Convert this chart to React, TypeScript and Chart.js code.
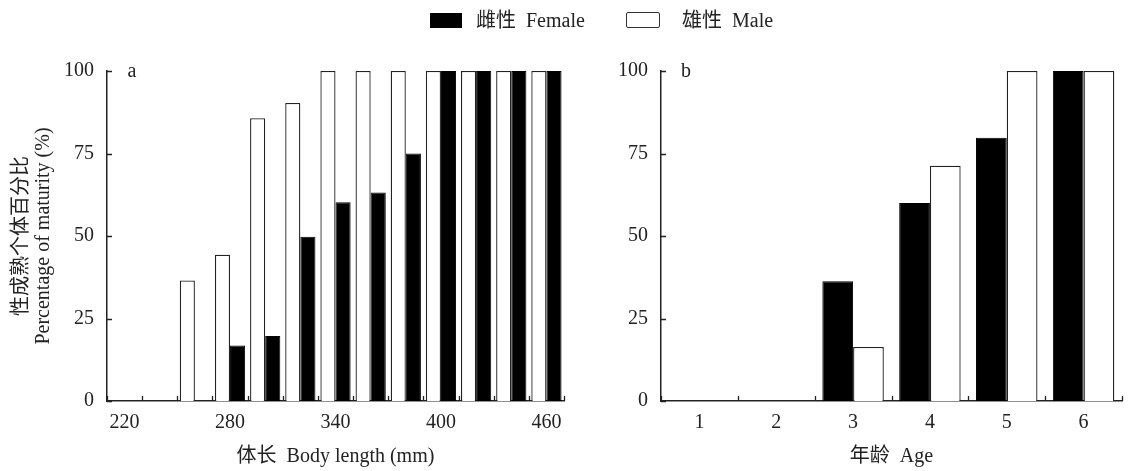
import React, { useEffect, useRef } from "react";
import { Chart, registerables } from "chart.js";

Chart.register(...registerables);

const lengthLabels = ["220", "240", "260", "280", "300", "320", "340", "360", "380", "400", "420", "440", "460"];
const lengthMale = [0, 0, 36.5, 44.3, 85.7, 90.3, 100, 100, 100, 100, 100, 100, 100];
const lengthFemale = [0, 0, 0, 16.8, 19.7, 49.8, 60.2, 63.2, 75, 100, 100, 100, 100];

const ageLabels = ["1", "2", "3", "4", "5", "6"];
const ageFemale = [0, 0, 36.3, 60, 79.8, 100];
const ageMale = [0, 0, 16.4, 71.3, 100, 100];

const yTicks = [0, 25, 50, 75, 100];

const FONT = "'Liberation Serif', 'Times New Roman', 'Noto Sans CJK SC', serif";
const INK = "#222";
const FS = 20;

const inwardTicks = {
  id: "inwardTicks",
  afterDatasetsDraw(chart: any) {
    const { ctx, chartArea, scales } = chart;
    const x = scales.x;
    const y = scales.y;
    ctx.save();
    ctx.strokeStyle = INK;
    ctx.lineWidth = 1.3;
    ctx.beginPath();
    y.ticks.forEach((_t: any, i: number) => {
      const py = Math.round(y.getPixelForTick(i)) + 0.5;
      ctx.moveTo(chartArea.left, py);
      ctx.lineTo(chartArea.left + 5, py);
    });
    const n = x.ticks.length;
    for (let i = 0; i <= n; i++) {
      let px: number;
      if (i === 0) px = x.left;
      else if (i === n) px = x.right;
      else px = (x.getPixelForTick(i - 1) + x.getPixelForTick(i)) / 2;
      px = Math.round(px) + 0.5;
      ctx.moveTo(px, chartArea.bottom);
      ctx.lineTo(px, chartArea.bottom - 5);
    }
    ctx.stroke();
    const label = chart.options.plugins.inwardTicks?.panel;
    if (label) {
      ctx.fillStyle = INK;
      ctx.font = `${FS}px ${FONT}`;
      ctx.textBaseline = "middle";
      ctx.textAlign = "center";
      ctx.fillText(label, chartArea.left + 25, chartArea.top + 1);
    }
    ctx.restore();
  },
};

function makeOptions(opts: {
  yWidth: number;
  yTitle: string[] | null;
  xTitle: string;
  catPct: number;
  padRight: number;
  panel: string;
  every: number;
}): any {
  return {
    animation: false,
    responsive: true,
    maintainAspectRatio: false,
    layout: { padding: { top: 71, right: opts.padRight, bottom: 0, left: 0 } },
    plugins: {
      legend: { display: false },
      tooltip: { enabled: false },
      inwardTicks: { panel: opts.panel },
    },
    datasets: {
      bar: { categoryPercentage: opts.catPct, barPercentage: 1 },
    },
    scales: {
      x: {
        grid: { display: false, drawTicks: false },
        border: { display: true, color: INK, width: 1.5 },
        ticks: {
          color: INK,
          font: { family: FONT, size: FS },
          padding: 10,
          autoSkip: false,
          maxRotation: 0,
          callback: function (this: any, _v: any, i: number) {
            return i % opts.every === 0 ? this.getLabelForValue(i) : "";
          },
        },
        title: {
          display: true,
          text: opts.xTitle,
          color: INK,
          font: { family: FONT, size: FS },
          padding: { top: 0, bottom: 2 },
        },
        afterFit(scale: any) {
          scale.height = 70;
        },
      },
      y: {
        min: 0,
        max: 100,
        afterBuildTicks(scale: any) {
          scale.ticks = yTicks.map((v) => ({ value: v }));
        },
        grid: { display: false, drawTicks: false },
        border: { display: true, color: INK, width: 1.5 },
        ticks: {
          color: INK,
          font: { family: FONT, size: FS },
          padding: 13,
        },
        title: {
          display: !!opts.yTitle,
          text: opts.yTitle || "",
          color: INK,
          font: { family: FONT, size: FS, lineHeight: 1.1 },
          padding: { top: 11, bottom: 0 },
        },
        afterFit(scale: any) {
          scale.width = opts.yWidth;
        },
      },
    },
  };
}

function BarPanel(props: { config: any; style: React.CSSProperties }) {
  const ref = useRef<HTMLCanvasElement | null>(null);
  useEffect(() => {
    if (!ref.current) return;
    const chart = new Chart(ref.current, props.config);
    return () => chart.destroy();
  }, []);
  return (
    <div style={{ position: "absolute", ...props.style }}>
      <canvas ref={ref} />
    </div>
  );
}

const maleStyle = { backgroundColor: "#ffffff", borderColor: INK, borderWidth: 1.3 };
const femaleStyle = { backgroundColor: "#000000", borderColor: "#000000", borderWidth: 1 };

export default function App() {
  const leftConfig = {
    type: "bar",
    data: {
      labels: lengthLabels,
      datasets: [
        { label: "雄性 Male", data: lengthMale, ...maleStyle },
        { label: "雌性 Female", data: lengthFemale, ...femaleStyle },
      ],
    },
    options: makeOptions({
      yWidth: 107,
      yTitle: ["性成熟个体百分比", "Percentage of maturity (%)"],
      xTitle: "体长  Body length (mm)",
      catPct: 0.86,
      padRight: 16,
      panel: "a",
      every: 3,
    }),
    plugins: [inwardTicks],
  };
  const rightConfig = {
    type: "bar",
    data: {
      labels: ageLabels,
      datasets: [
        { label: "雌性 Female", data: ageFemale, ...femaleStyle },
        { label: "雄性 Male", data: ageMale, ...maleStyle },
      ],
    },
    options: makeOptions({
      yWidth: 81,
      yTitle: null,
      xTitle: "年龄  Age",
      catPct: 0.8,
      padRight: 10,
      panel: "b",
      every: 1,
    }),
    plugins: [inwardTicks],
  };

  const textStyle: React.CSSProperties = {
    position: "absolute",
    top: 8,
    fontFamily: FONT,
    fontSize: FS,
    color: INK,
    lineHeight: "24px",
    whiteSpace: "pre",
  };

  return (
    <div
      style={{
        position: "absolute",
        left: 0,
        top: 0,
        width: 1132,
        height: 471,
        background: "#fff",
        overflow: "hidden",
      }}
    >
      <BarPanel config={leftConfig} style={{ left: 0, top: 0, width: 580, height: 471 }} />
      <BarPanel config={rightConfig} style={{ left: 580, top: 0, width: 552, height: 471 }} />
      <div style={{ position: "absolute", left: 430, top: 13, width: 32, height: 15, background: "#000" }} />
      <div style={{ ...textStyle, left: 476 }}>{"雌性  Female"}</div>
      <div
        style={{
          position: "absolute",
          left: 626,
          top: 12,
          width: 32,
          height: 14,
          border: "1.5px solid #333",
          borderRadius: 2,
          background: "#fff",
        }}
      />
      <div style={{ ...textStyle, left: 682 }}>{"雄性  Male"}</div>
    </div>
  );
}
